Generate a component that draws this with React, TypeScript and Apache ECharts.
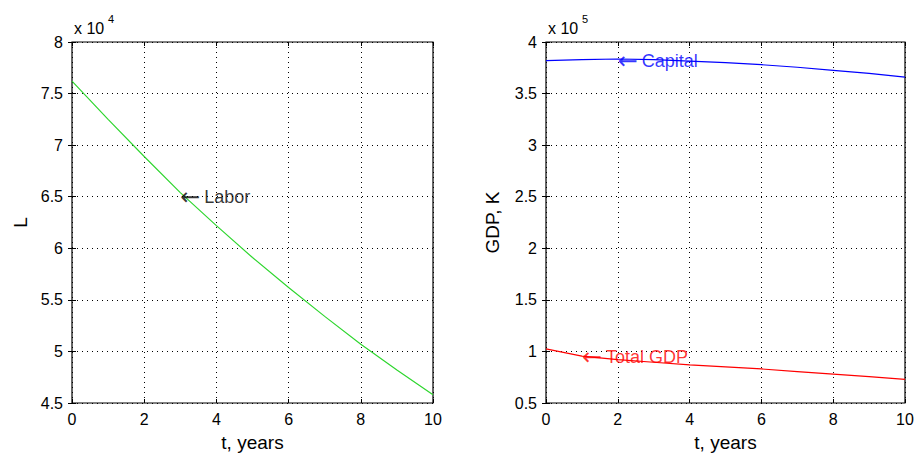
import React, { useEffect, useRef } from "react";
import * as echarts from "echarts";

const FONT = "'Liberation Sans', Arial, Helvetica, sans-serif";

const years = [0, 1, 2, 3, 4, 5, 6, 7, 8, 9, 10];
const labor = [7.62, 7.25, 6.89, 6.54, 6.22, 5.91, 5.62, 5.34, 5.07, 4.82, 4.58];
const capital = [3.82, 3.83, 3.835, 3.83, 3.815, 3.8, 3.78, 3.755, 3.725, 3.695, 3.66];
const gdp = [1.025, 0.955, 0.92, 0.895, 0.87, 0.85, 0.83, 0.805, 0.78, 0.755, 0.73];

const laborNote = { text: "Labor", x: 3, y: 6.5 };
const capitalNote = { text: "Capital", x: 2, y: 3.82 };
const gdpNote = { text: "Total GDP", x: 1, y: 0.95 };

const leftY = { min: 4.5, max: 8, interval: 0.5, name: "L", exp: "4" };
const rightY = { min: 0.5, max: 4, interval: 0.5, name: "GDP, K", exp: "5" };
const xRange = { min: 0, max: 10, interval: 2, name: "t, years" };

const grids = [
  { left: 72, top: 42, width: 361, height: 361 },
  { left: 546, top: 42, width: 359, height: 361 },
];

const gridLine = { show: true, lineStyle: { color: "#000", type: [1, 4], width: 1 } };
const tick = { show: true, inside: true, length: 4, lineStyle: { color: "#000", width: 1 } };
const labelStyle = { color: "#000", fontSize: 16, fontFamily: FONT };
const nameStyle = { color: "#000", fontSize: 19, fontFamily: FONT };

function xMain(gridIndex: number) {
  return {
    type: "value",
    gridIndex,
    min: xRange.min,
    max: xRange.max,
    interval: xRange.interval,
    position: "bottom",
    axisLine: { show: false },
    axisTick: tick,
    axisLabel: { ...labelStyle, margin: 8 },
    splitLine: gridLine,
    name: xRange.name,
    nameLocation: "middle",
    nameGap: 30,
    nameTextStyle: { ...nameStyle },
  };
}
function xMirror(gridIndex: number) {
  return {
    type: "value",
    gridIndex,
    min: xRange.min,
    max: xRange.max,
    interval: xRange.interval,
    position: "top",
    axisLine: { show: false },
    axisTick: tick,
    axisLabel: { show: false },
    splitLine: { show: false },
  };
}
function yMain(gridIndex: number, cfg: any, gap: number) {
  return {
    type: "value",
    gridIndex,
    min: cfg.min,
    max: cfg.max,
    interval: cfg.interval,
    position: "left",
    axisLine: { show: false },
    axisTick: tick,
    axisLabel: { ...labelStyle, margin: 9 },
    splitLine: gridLine,
    name: cfg.name,
    nameLocation: "middle",
    nameGap: gap,
    nameRotate: 90,
    nameTextStyle: { ...nameStyle },
  };
}
function yMirror(gridIndex: number, cfg: any) {
  return {
    type: "value",
    gridIndex,
    min: cfg.min,
    max: cfg.max,
    interval: cfg.interval,
    position: "right",
    axisLine: { show: false },
    axisTick: tick,
    axisLabel: { show: false },
    splitLine: { show: false },
  };
}

function noteSeries(note: any, xi: number, yi: number, color: string) {
  return {
    type: "scatter",
    xAxisIndex: xi,
    yAxisIndex: yi,
    symbolSize: 0,
    silent: true,
    z: 5,
    data: [[note.x, note.y]],
    label: {
      show: true,
      position: "right",
      distance: 0,
      formatter: "{a|\u2190}{b| }" + note.text,
      color,
      fontSize: 18,
      fontFamily: FONT,
      rich: {
        a: { fontFamily: "'DejaVu Sans'", fontSize: 24, color, lineHeight: 18 },
        b: { fontSize: 14, color },
      },
    },
  };
}

function lineSeries(values: number[], xi: number, yi: number, color: string) {
  return {
    type: "line",
    xAxisIndex: xi,
    yAxisIndex: yi,
    showSymbol: false,
    symbol: "none",
    data: years.map((t, i) => [t, values[i]]),
    lineStyle: { color, width: 1.2 },
    itemStyle: { color },
    z: 3,
  };
}

function expLabel(x: number, exp: string) {
  return [
    {
      type: "text",
      left: x,
      top: 20,
      style: { text: "x 10", fill: "#000", fontSize: 16, fontFamily: FONT },
    },
    {
      type: "text",
      left: x + 34,
      top: 13,
      style: { text: exp, fill: "#000", fontSize: 11, fontFamily: FONT },
    },
  ];
}

export default function App() {
  const ref = useRef<HTMLDivElement>(null);
  useEffect(() => {
    const chart = echarts.init(ref.current as HTMLDivElement, null, { renderer: "svg" });
    const option: any = {
      animation: false,
      backgroundColor: "#fff",
      grid: grids.map((g) => ({
        ...g,
        show: true,
        borderColor: "#000",
        borderWidth: 1.2,
        backgroundColor: "#fff",
      })),
      xAxis: [xMain(0), xMirror(0), xMain(1), xMirror(1)],
      yAxis: [yMain(0, leftY, 42), yMirror(0, leftY), yMain(1, rightY, 44), yMirror(1, rightY)],
      series: [
        lineSeries(labor, 0, 0, "#2fd62f"),
        lineSeries(capital, 2, 2, "#0000ff"),
        lineSeries(gdp, 2, 2, "#ff0000"),
        noteSeries(laborNote, 0, 0, "#000"),
        noteSeries(capitalNote, 2, 2, "#0000ff"),
        noteSeries(gdpNote, 2, 2, "#ff0000"),
      ],
      graphic: [...expLabel(74, leftY.exp), ...expLabel(548, rightY.exp)],
    };
    chart.setOption(option);
    return () => chart.dispose();
  }, []);
  return (
    <div
      ref={ref}
      style={{ position: "fixed", left: 0, top: 0, width: 918, height: 457, background: "#fff" }}
    />
  );
}
